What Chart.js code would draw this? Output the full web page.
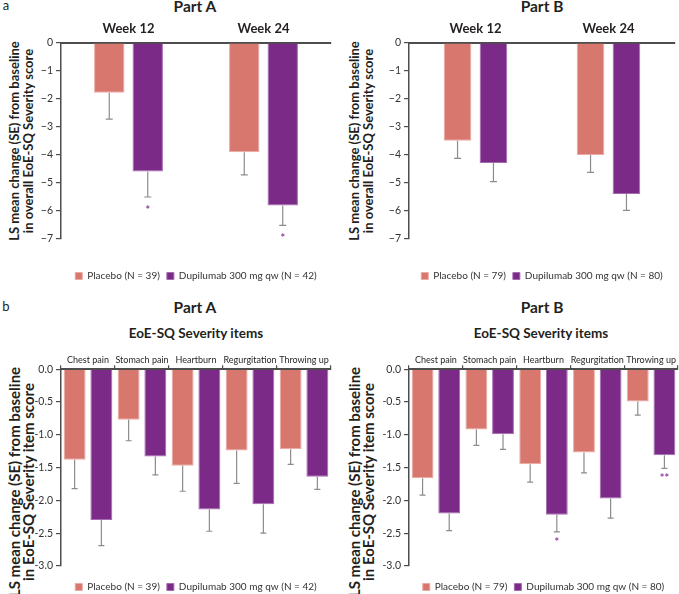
<!DOCTYPE html>
<html>
<head>
<meta charset="utf-8">
<title>EoE-SQ Severity</title>
<script src="https://cdn.jsdelivr.net/npm/chart.js@4.4.0/dist/chart.umd.min.js"></script>
<style>
    html, body { margin: 0; padding: 0; background: #fff; overflow: hidden; }
    body { width: 679px; height: 594px; position: relative; font-family: Lato, sans-serif; color: #231f20; }
    canvas { position: absolute; }
    .t { position: absolute; white-space: nowrap; transform: translate(-50%, -50%); }
    .h1 { font-weight: bold; font-size: 15.5px; }
    .h2 { font-weight: bold; font-size: 13.5px; }
    .tag { font-size: 13px; }
    .ytitle { position: absolute; white-space: nowrap; font-weight: bold; text-align: center;
              line-height: 14px; transform: translate(-50%, -50%) rotate(-90deg); }
</style>
</head>
<body>
<div class="t tag" style="left:6px;top:5px;">a</div>
<div class="t h1" style="left:195px;top:6px;">Part A</div>
<div class="t h1" style="left:542px;top:6px;">Part B</div>
<div class="ytitle" style="left:21px;top:141px;font-size:13px;">LS mean change (SE) from baseline<br>in overall EoE-SQ Severity score</div>
<div class="ytitle" style="left:361px;top:141px;font-size:13px;">LS mean change (SE) from baseline<br>in overall EoE-SQ Severity score</div>

<div class="t tag" style="left:6px;top:306px;">b</div>
<div class="t h1" style="left:195px;top:307px;">Part A</div>
<div class="t h1" style="left:542px;top:307px;">Part B</div>
<div class="t h2" style="left:196px;top:333px;">EoE-SQ Severity items</div>
<div class="t h2" style="left:541px;top:333px;">EoE-SQ Severity items</div>
<div class="ytitle" style="left:21px;top:482px;font-size:15px;">LS mean change (SE) from baseline<br>in EoE-SQ Severity item score</div>
<div class="ytitle" style="left:361px;top:482px;font-size:15px;">LS mean change (SE) from baseline<br>in EoE-SQ Severity item score</div>

<canvas id="aPartA" width="392" height="291" style="left:0;top:0;"></canvas>
<canvas id="aPartB" width="404" height="291" style="left:340px;top:0;"></canvas>
<canvas id="bPartA" width="392" height="302" style="left:0;top:300px;"></canvas>
<canvas id="bPartB" width="407" height="302" style="left:340px;top:300px;"></canvas>

<script>
    // categories
    var weekLabels = ['Week 12', 'Week 24'];
    var itemLabels = ['Chest pain', 'Stomach pain', 'Heartburn', 'Regurgitation', 'Throwing up'];

    // tick labels
    var overallTicks = [0, -1, -2, -3, -4, -5, -6, -7];
    var itemTicks = [0, -0.5, -1, -1.5, -2, -2.5, -3];

    // (a) overall score, Part A
    var aPartAPlacebo = [-1.78, -3.90];
    var aPartAPlaceboSE = [0.94, 0.81];
    var aPartADupi = [-4.59, -5.80];
    var aPartADupiSE = [0.91, 0.71];
    var aPartADupiSig = ['*', '*'];

    // (a) overall score, Part B
    var aPartBPlacebo = [-3.49, -4.00];
    var aPartBPlaceboSE = [0.63, 0.62];
    var aPartBDupi = [-4.29, -5.39];
    var aPartBDupiSE = [0.66, 0.59];
    var aPartBDupiSig = ['', ''];

    // (b) severity items, Part A
    var bPartAPlacebo = [-1.38, -0.77, -1.47, -1.24, -1.22];
    var bPartAPlaceboSE = [0.44, 0.32, 0.39, 0.50, 0.23];
    var bPartADupi = [-2.30, -1.33, -2.14, -2.06, -1.64];
    var bPartADupiSE = [0.39, 0.28, 0.33, 0.44, 0.19];
    var bPartADupiSig = ['', '', '', '', ''];

    // (b) severity items, Part B
    var bPartBPlacebo = [-1.66, -0.92, -1.45, -1.27, -0.49];
    var bPartBPlaceboSE = [0.26, 0.24, 0.27, 0.31, 0.21];
    var bPartBDupi = [-2.20, -0.99, -2.22, -1.97, -1.31];
    var bPartBDupiSE = [0.26, 0.23, 0.26, 0.30, 0.20];
    var bPartBDupiSig = ['', '', '*', '', '**'];

    var PLACEBO = '#d8776d';
    var PLACEBO_EDGE = '#eaa9a2';
    var DUPI = '#7b2a88';
    var DUPI_EDGE = '#a46bb0';
    var AXIS = '#4d4d4d';

    Chart.defaults.font.family = 'Lato';
    Chart.defaults.color = '#333';

    // lower SE whiskers plus significance stars under the dupilumab bars
    var errorBars = {
        id: 'errorBars',
        afterDatasetsDraw: function (chart, args, opts) {
            var ctx = chart.ctx;
            var yScale = chart.scales.y;
            chart.data.datasets.forEach(function (ds, i) {
                var meta = chart.getDatasetMeta(i);
                meta.data.forEach(function (bar, j) {
                    var yEnd = yScale.getPixelForValue(ds.data[j] - ds.se[j]);
                    ctx.save();
                    ctx.strokeStyle = '#8c8c8c';
                    ctx.lineWidth = 1.2;
                    ctx.beginPath();
                    ctx.moveTo(bar.x, bar.y);
                    ctx.lineTo(bar.x, yEnd);
                    ctx.moveTo(bar.x - opts.cap, yEnd);
                    ctx.lineTo(bar.x + opts.cap, yEnd);
                    ctx.stroke();
                    if (ds.sig && ds.sig[j]) {
                        ctx.fillStyle = '#8e3f9c';
                        ctx.font = 'bold 11px Lato';
                        ctx.textAlign = 'center';
                        ctx.textBaseline = 'alphabetic';
                        ctx.fillText(ds.sig[j], bar.x, yEnd + opts.starGap);
                    }
                    ctx.restore();
                });
            });
        }
    };

    function makePanel(id, cfg) {
        var ticks = cfg.ticks;
        return new Chart(document.getElementById(id), {
            type: 'bar',
            data: {
                labels: cfg.labels,
                datasets: [{
                    label: cfg.placeboLabel,
                    data: cfg.placebo,
                    se: cfg.placeboSE,
                    yAxisID: 'y',
                    backgroundColor: PLACEBO,
                    borderColor: PLACEBO_EDGE,
                    borderWidth: 1
                }, {
                    label: cfg.dupiLabel,
                    data: cfg.dupi,
                    se: cfg.dupiSE,
                    sig: cfg.dupiSig,
                    yAxisID: 'y',
                    backgroundColor: DUPI,
                    borderColor: DUPI_EDGE,
                    borderWidth: 1
                }]
            },
            options: {
                responsive: false,
                animation: false,
                categoryPercentage: cfg.catPct,
                barPercentage: cfg.barPct,
                layout: { padding: { top: cfg.padTop, right: 0, left: 0, bottom: 0 } },
                scales: {
                    x: {
                        position: 'top',
                        z: 1,
                        afterFit: function (s) { s.height = cfg.xHeight; },
                        grid: { display: cfg.xTicks, drawOnChartArea: false, tickLength: 4, color: AXIS, lineWidth: 1.2 },
                        border: { color: AXIS, width: 2 },
                        ticks: { padding: cfg.xPad, color: '#231f20', font: cfg.xFont,
                                 maxRotation: 0, minRotation: 0, autoSkip: false }
                    },
                    y: {
                        min: Math.min.apply(null, ticks),
                        max: Math.max.apply(null, ticks),
                        afterFit: function (s) { s.width = cfg.yWidth; },
                        afterBuildTicks: function (s) {
                            s.ticks = ticks.map(function (v) { return { value: v }; });
                        },
                        grid: { drawOnChartArea: false, tickLength: 5, color: AXIS, lineWidth: 1.2 },
                        border: { color: AXIS, width: 1.5 },
                        ticks: { padding: 3, font: { size: 10.5 }, callback: cfg.fmt }
                    },
                    // empty strip on the right so the legend centres under the plot
                    pad: {
                        type: 'linear',
                        position: 'right',
                        afterFit: function (s) { s.width = cfg.rightPad; },
                        grid: { display: false },
                        border: { display: false },
                        ticks: { display: false }
                    }
                },
                plugins: {
                    legend: {
                        position: 'bottom',
                        title: { display: true, text: '', font: { size: 6, lineHeight: 1 }, padding: { top: cfg.legendGap, bottom: 0 } },
                        labels: { boxWidth: 7, boxHeight: 7, padding: 7, color: '#333', font: { size: 10 } }
                    },
                    tooltip: { enabled: false },
                    errorBars: { cap: cfg.cap, starGap: cfg.starGap }
                }
            },
            plugins: [errorBars]
        });
    }

    function fmtOverall(v) { return v === 0 ? '0' : '\u2212' + Math.abs(v); }
    function fmtItem(v) { return Number(v).toFixed(1); }

    makePanel('aPartA', {
        labels: weekLabels, ticks: overallTicks, fmt: fmtOverall,
        placebo: aPartAPlacebo, placeboSE: aPartAPlaceboSE, placeboLabel: 'Placebo (N = 39)',
        dupi: aPartADupi, dupiSE: aPartADupiSE, dupiSig: aPartADupiSig, dupiLabel: 'Dupilumab 300 mg qw (N = 42)',
        padTop: 3, xHeight: 40, yWidth: 61, rightPad: 61,
        catPct: 0.57, barPct: 0.79, xTicks: false, xPad: 2.7, xFont: { size: 13, weight: 'bold' },
        legendGap: 19, cap: 3.5, starGap: 17
    });
    makePanel('aPartB', {
        labels: weekLabels, ticks: overallTicks, fmt: fmtOverall,
        placebo: aPartBPlacebo, placeboSE: aPartBPlaceboSE, placeboLabel: 'Placebo (N = 79)',
        dupi: aPartBDupi, dupiSE: aPartBDupiSE, dupiSig: aPartBDupiSig, dupiLabel: 'Dupilumab 300 mg qw (N = 80)',
        padTop: 3, xHeight: 40, yWidth: 69, rightPad: 69,
        catPct: 0.54, barPct: 0.77, xTicks: false, xPad: 2.7, xFont: { size: 13, weight: 'bold' },
        legendGap: 19, cap: 3.5, starGap: 17
    });
    makePanel('bPartA', {
        labels: itemLabels, ticks: itemTicks, fmt: fmtItem,
        placebo: bPartAPlacebo, placeboSE: bPartAPlaceboSE, placeboLabel: 'Placebo (N = 39)',
        dupi: bPartADupi, dupiSE: bPartADupiSE, dupiSig: bPartADupiSig, dupiLabel: 'Dupilumab 300 mg qw (N = 42)',
        padTop: 9.3, xHeight: 60, yWidth: 61, rightPad: 61,
        catPct: 0.99, barPct: 0.82, xTicks: true, xPad: 0, xFont: { size: 9 },
        legendGap: 3, cap: 3, starGap: 14
    });
    makePanel('bPartB', {
        labels: itemLabels, ticks: itemTicks, fmt: fmtItem,
        placebo: bPartBPlacebo, placeboSE: bPartBPlaceboSE, placeboLabel: 'Placebo (N = 79)',
        dupi: bPartBDupi, dupiSE: bPartBDupiSE, dupiSig: bPartBDupiSig, dupiLabel: 'Dupilumab 300 mg qw (N = 80)',
        padTop: 9.3, xHeight: 60, yWidth: 69, rightPad: 69,
        catPct: 0.99, barPct: 0.82, xTicks: true, xPad: 0, xFont: { size: 9 },
        legendGap: 3, cap: 3, starGap: 14
    });
</script>
</body>
</html>
